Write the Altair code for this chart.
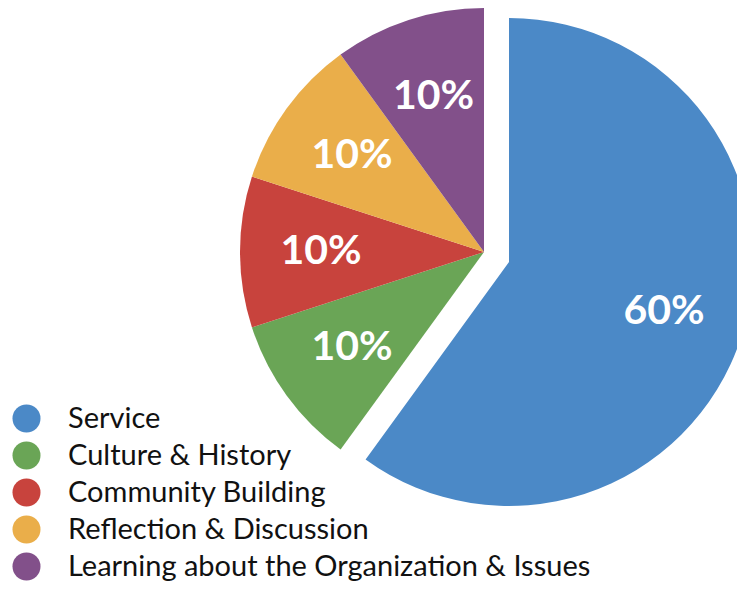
import altair as alt
import pandas as pd

categories = ["Service", "Culture & History", "Community Building",
              "Reflection & Discussion", "Learning about the Organization & Issues"]
values = [60, 10, 10, 10, 10]
labels = ["60%", "10%", "10%", "10%", "10%"]
colors = ["#4B89C7", "#6AA556", "#C8433D", "#EAAE4A", "#82508A"]

df = pd.DataFrame({"category": categories, "value": values, "label": labels,
                   "order": list(range(len(categories)))})

FONT = "Lato"
TWO_PI = 6.283185307179586
theta_scale = alt.Scale(domain=[0, 100], range=[0, TWO_PI])

base = alt.Chart(df).transform_window(
    cum="sum(value)", sort=[alt.SortField("order")], frame=[None, 0]
).transform_calculate(
    start="datum.cum - datum.value",
    mid="datum.cum - datum.value / 2"
)

color = alt.Color(
    "category:N",
    scale=alt.Scale(domain=categories, range=colors),
    sort=categories,
    legend=alt.Legend(
        title=None, orient="none", legendX=4, legendY=396,
        symbolType="circle", symbolSize=784, symbolStrokeWidth=0,
        labelFont=FONT, labelFontSize=29, labelColor="#111111",
        labelOffset=27, rowPadding=7, labelLimit=700, padding=0,
    ),
)

CX, CY = 476, 244
SX, SY = 501, 254
R = 244

others = base.transform_filter("datum.category != 'Service'").mark_arc(
    radius=R, stroke=None
).encode(
    theta=alt.Theta("start:Q", scale=theta_scale),
    theta2="cum:Q",
    color=color,
    x=alt.value(CX), y=alt.value(CY),
)

service = base.transform_filter("datum.category == 'Service'").mark_arc(
    radius=R, stroke=None
).encode(
    theta=alt.Theta("start:Q", scale=theta_scale),
    theta2="cum:Q",
    color=color,
    x=alt.value(SX), y=alt.value(SY),
)

txt_others = base.transform_filter("datum.category != 'Service'").mark_text(
    radius=163, font=FONT, fontSize=41, fontWeight="bold", color="white",
    align="center", baseline="middle"
).encode(
    theta=alt.Theta("mid:Q", scale=theta_scale),
    text="label:N",
    x=alt.value(CX), y=alt.value(CY),
)

txt_service = base.transform_filter("datum.category == 'Service'").mark_text(
    radius=163, font=FONT, fontSize=41, fontWeight="bold", color="white",
    align="center", baseline="middle"
).encode(
    theta=alt.Theta("mid:Q", scale=theta_scale),
    text="label:N",
    x=alt.value(SX), y=alt.value(SY),
)

chart = alt.layer(others, service, txt_others, txt_service).properties(
    width=729, height=574, padding=0, autosize="none", background="white"
).configure_view(stroke=None)

chart.save("out.html", embed_options={"renderer": "svg", "actions": False})
